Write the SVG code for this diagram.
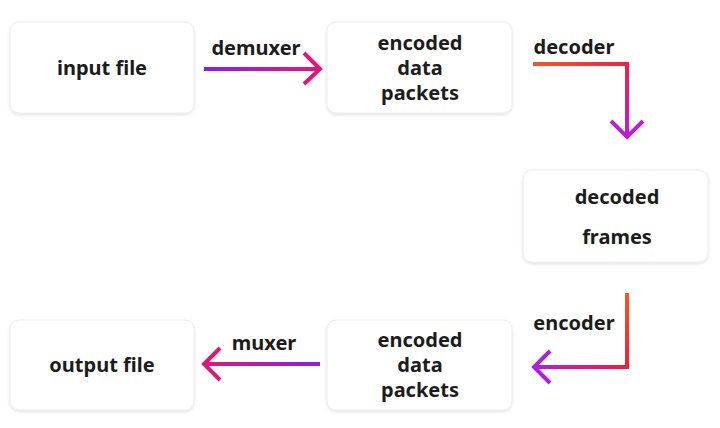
<svg xmlns="http://www.w3.org/2000/svg" width="720" height="428" viewBox="0 0 720 428">
<style>
.box{fill:#ffffff;stroke:#ececec;stroke-width:1;filter:url(#sh)}
.t{font-family:"Noto Sans","Open Sans","Liberation Sans",sans-serif;font-weight:700;font-size:20px;fill:#1c1c1c;text-anchor:middle}
.ln{fill:none;stroke-width:4;stroke-linecap:butt;stroke-linejoin:miter}
</style>
<defs>
<filter id="sh" x="-10%" y="-10%" width="120%" height="130%">
<feDropShadow dx="0" dy="1.5" stdDeviation="1.5" flood-color="#000" flood-opacity="0.12"/>
</filter>
<linearGradient id="gDemux" gradientUnits="userSpaceOnUse" x1="204" y1="0" x2="320" y2="0">
<stop offset="0" stop-color="#8a1fe6"/><stop offset="1" stop-color="#dc1a78"/>
</linearGradient>
<linearGradient id="gDecH" gradientUnits="userSpaceOnUse" x1="533" y1="0" x2="627" y2="0">
<stop offset="0" stop-color="#f25824"/><stop offset="1" stop-color="#e82646"/>
</linearGradient>
<linearGradient id="gDecV" gradientUnits="userSpaceOnUse" x1="0" y1="64" x2="0" y2="137">
<stop offset="0" stop-color="#e82646"/><stop offset="0.5" stop-color="#d81c8a"/><stop offset="1" stop-color="#b81ed8"/>
</linearGradient>
<linearGradient id="gEncV" gradientUnits="userSpaceOnUse" x1="0" y1="293" x2="0" y2="367">
<stop offset="0" stop-color="#f25824"/><stop offset="1" stop-color="#e8223e"/>
</linearGradient>
<linearGradient id="gEncH" gradientUnits="userSpaceOnUse" x1="627" y1="0" x2="533" y2="0">
<stop offset="0" stop-color="#e8223e"/><stop offset="0.5" stop-color="#d41c96"/><stop offset="1" stop-color="#a820e0"/>
</linearGradient>
<linearGradient id="gMux" gradientUnits="userSpaceOnUse" x1="320" y1="0" x2="204" y2="0">
<stop offset="0" stop-color="#8a1fe6"/><stop offset="1" stop-color="#dc1a78"/>
</linearGradient>
</defs>
<rect width="720" height="428" fill="#ffffff"/>

<g id="connectors">
<g id="demuxer">
<path class="ln" stroke="url(#gDemux)" d="M204 69 H318"/>
<path class="ln" stroke="#d81a7c" d="M304 53 L320 69 L304 84"/>
<text class="t" x="256" y="55">demuxer</text>
</g>
<g id="decoder">
<path class="ln" stroke="url(#gDecH)" d="M533 64 H627"/>
<path class="ln" stroke="url(#gDecV)" d="M627 62 V136"/>
<path class="ln" stroke="#bb1ed6" d="M611 121 L627 137 L643 121"/>
<text class="t" x="574" y="54">decoder</text>
</g>
<g id="encoder">
<path class="ln" stroke="url(#gEncV)" d="M627 293 V369"/>
<path class="ln" stroke="url(#gEncH)" d="M629 367 H535"/>
<path class="ln" stroke="#ac20de" d="M550 351 L534 367 L550 383"/>
<text class="t" x="574" y="330">encoder</text>
</g>
<g id="muxer">
<path class="ln" stroke="url(#gMux)" d="M320 364 H206"/>
<path class="ln" stroke="#d81a7c" d="M220 348 L204 364 L220 380"/>
<text class="t" x="264" y="350">muxer</text>
</g>
</g>

<g id="input-file">
<rect class="box" x="10" y="22" width="184" height="91" rx="9"/>
<text class="t" x="102" y="75">input file</text>
</g>
<g id="encoded-packets-top">
<rect class="box" x="327" y="22" width="185" height="91" rx="9"/>
<text class="t" x="420" y="50">encoded</text>
<text class="t" x="420" y="75">data</text>
<text class="t" x="420" y="100">packets</text>
</g>
<g id="decoded-frames">
<rect class="box" x="523" y="170" width="185" height="92" rx="9"/>
<text class="t" x="617" y="204">decoded</text>
<text class="t" x="617" y="244">frames</text>
</g>
<g id="encoded-packets-bottom">
<rect class="box" x="327" y="320" width="185" height="90" rx="9"/>
<text class="t" x="420" y="347">encoded</text>
<text class="t" x="420" y="372">data</text>
<text class="t" x="420" y="397">packets</text>
</g>
<g id="output-file">
<rect class="box" x="10" y="320" width="184" height="90" rx="9"/>
<text class="t" x="102" y="372">output file</text>
</g>
</svg>
